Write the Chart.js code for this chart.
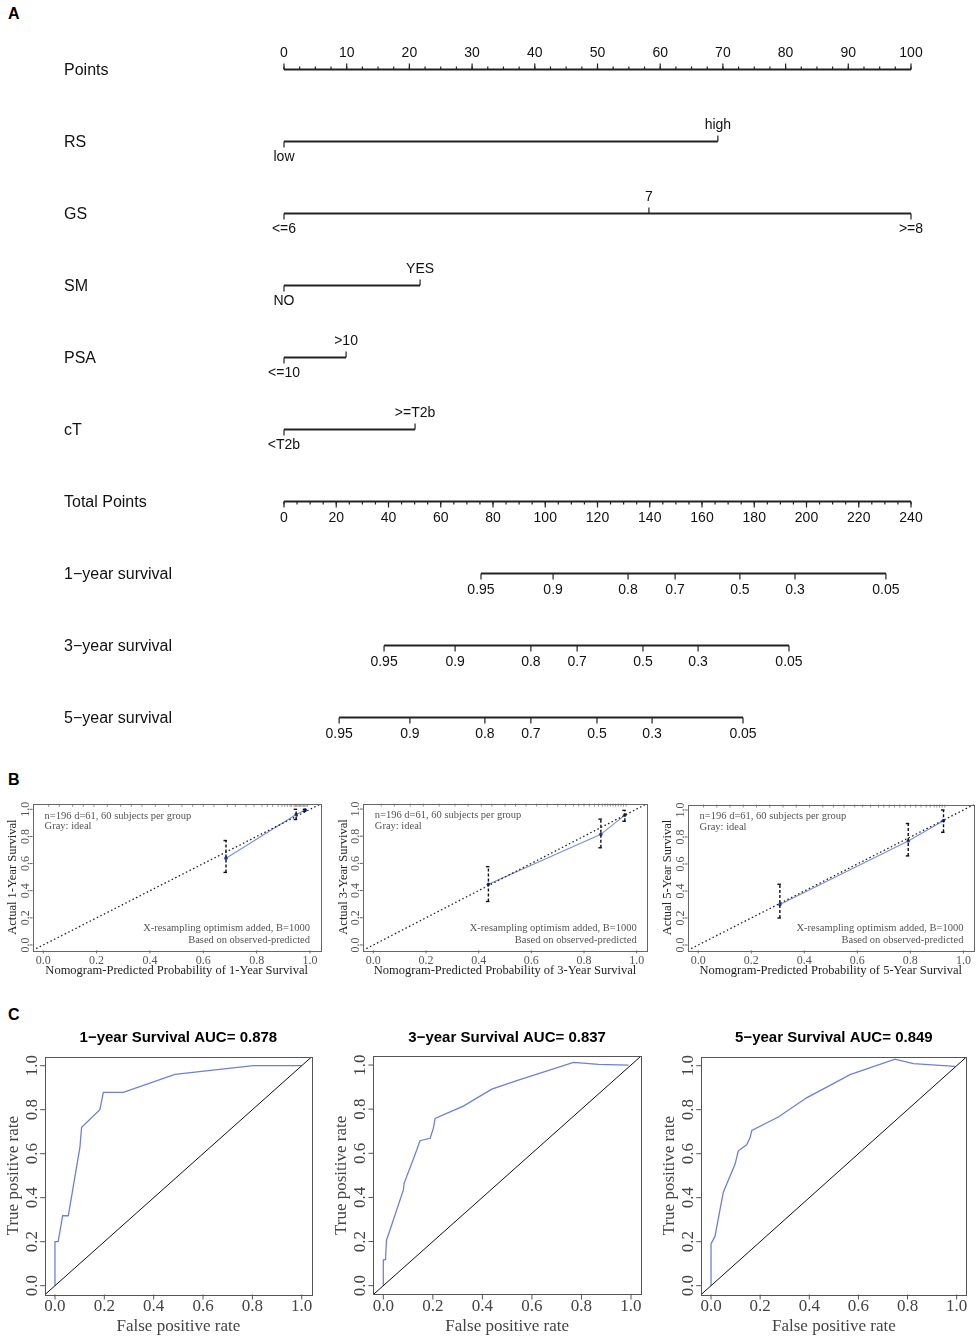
<!DOCTYPE html>
<html><head><meta charset="utf-8">
<script src="https://cdn.jsdelivr.net/npm/chart.js@4.4.1/dist/chart.umd.min.js"></script>
<style>
html,body{margin:0;padding:0;background:#fff;}
body{width:978px;height:1339px;position:relative;overflow:hidden;}
canvas{position:absolute;}
.lbl{position:absolute;font:bold 16px "Liberation Sans",Arial,sans-serif;color:#000;line-height:18px;}
</style></head><body>
<div class="lbl" style="left:8px;top:5px">A</div>
<div class="lbl" style="left:8px;top:771px">B</div>
<div class="lbl" style="left:8px;top:1006px">C</div>
<canvas id="nomo" width="978" height="760" style="left:0;top:0"></canvas>
<canvas id="cal1" width="325" height="185" style="left:0;top:795px"></canvas>
<canvas id="cal2" width="330" height="185" style="left:325px;top:795px"></canvas>
<canvas id="cal3" width="323" height="185" style="left:655px;top:795px"></canvas>
<canvas id="roc1" width="325" height="319" style="left:0;top:1020px"></canvas>
<canvas id="roc2" width="330" height="319" style="left:325px;top:1020px"></canvas>
<canvas id="roc3" width="328" height="319" style="left:650px;top:1020px"></canvas>
<script>
// ================= DATA =================
// Panel A: nomogram
const rowNames = ['Points','RS','GS','SM','PSA','cT','Total Points','1\u2212year survival','3\u2212year survival','5\u2212year survival'];
const pointsTicks = [0,10,20,30,40,50,60,70,80,90,100];
const rsLevels  = ['low','high'];        const rsPoints  = [0, 69.2];
const gsLevels  = ['<=6','7','>=8'];     const gsPoints  = [0, 58.2, 100];
const smLevels  = ['NO','YES'];          const smPoints  = [0, 21.7];
const psaLevels = ['<=10','>10'];        const psaPoints = [0, 9.9];
const ctLevels  = ['<T2b','>=T2b'];      const ctPoints  = [0, 20.9];
const totalTicks = [0,20,40,60,80,100,120,140,160,180,200,220,240];
const survTickLabels = ['0.95','0.9','0.8','0.7','0.5','0.3','0.05'];
const surv1yTotal = [75.4,103.0,131.7,149.7,174.5,195.6,230.4];
const surv3yTotal = [38.3,65.5,94.5,112.2,137.4,158.5,193.3];
const surv5yTotal = [21.1,48.2,76.9,94.5,119.8,140.9,175.7];

// Panel B: calibration
const calTicks = [0,0.2,0.4,0.6,0.8,1.0];
const cal1Pred = [0.685,0.948,0.982]; const cal1Obs = [0.640,0.962,0.995];
const cal1Lo   = [0.535,0.925,0.985]; const cal1Hi  = [0.770,1.000,1.000];
const cal2Pred = [0.437,0.864,0.955]; const cal2Obs = [0.446,0.814,0.955];
const cal2Lo   = [0.320,0.715,0.910]; const cal2Hi  = [0.576,0.926,0.990];
const cal3Pred = [0.308,0.792,0.925]; const cal3Obs = [0.300,0.770,0.920];
const cal3Lo   = [0.200,0.660,0.835]; const cal3Hi  = [0.450,0.900,1.000];
const rug1 = [0.02,0.06,0.11,0.15,0.19,0.24,0.29,0.33,0.37,0.42,0.47,0.52,0.56,0.60,0.64,0.69,0.72,0.76,0.79,0.82,0.84,0.86,0.88,0.895,0.905,0.915,0.925,0.93,0.94,0.945,0.95,0.955,0.96,0.965,0.97,0.975,0.98,0.985,0.99];
const rug2 = [0.03,0.08,0.14,0.19,0.25,0.31,0.36,0.41,0.45,0.5,0.54,0.58,0.62,0.66,0.7,0.73,0.76,0.78,0.8,0.82,0.84,0.855,0.87,0.88,0.89,0.9,0.91,0.92,0.93,0.94,0.95,0.96];
const rug3 = [0.02,0.07,0.12,0.17,0.22,0.27,0.32,0.37,0.42,0.47,0.51,0.55,0.59,0.62,0.65,0.68,0.7,0.72,0.74,0.76,0.78,0.8,0.82,0.84,0.86,0.875,0.89,0.9,0.91,0.92,0.93];

// Panel C: ROC
const rocTitles = ['1\u2212year Survival AUC= 0.878','3\u2212year Survival AUC= 0.837','5\u2212year Survival AUC= 0.849'];
const roc1FPR = [0,0,0.013,0.031,0.054,0.101,0.108,0.182,0.196,0.277,0.486,0.804,1.0];
const roc1TPR = [0,0.2,0.2,0.318,0.318,0.629,0.72,0.80,0.879,0.879,0.961,1.0,1.0];
const roc2FPR = [0,0,0.009,0.013,0.027,0.081,0.084,0.135,0.148,0.189,0.202,0.209,0.323,0.438,0.545,0.768,0.869,0.99];
const roc2TPR = [0,0.116,0.119,0.207,0.252,0.434,0.464,0.615,0.657,0.668,0.713,0.758,0.814,0.891,0.932,1.012,1.003,1.0];
const roc3FPR = [0,0,0.016,0.050,0.098,0.111,0.145,0.159,0.166,0.274,0.389,0.566,0.749,0.824,0.993];
const roc3TPR = [0,0.191,0.224,0.425,0.553,0.613,0.640,0.673,0.706,0.767,0.854,0.959,1.030,1.009,0.997];
const axisMin = -0.04, axisMax = 1.04;

// ================= NOMOGRAM =================
const SANS = '"Liberation Sans", Arial, sans-serif';
const SERIF = '"Liberation Serif", "Times New Roman", serif';
const predictors = [
  {levels: rsLevels, pts: rsPoints},
  {levels: gsLevels, pts: gsPoints},
  {levels: smLevels, pts: smPoints},
  {levels: psaLevels, pts: psaPoints},
  {levels: ctLevels, pts: ctPoints}
];
const survAxes = [surv1yTotal, surv3yTotal, surv5yTotal];

function hLine(a, b, row, axis) {
  return {data: [{x: a, y: row}, {x: b, y: row}], xAxisID: axis, yAxisID: 'y',
          showLine: true, pointRadius: 0, borderColor: '#222', borderWidth: 1.8};
}
const nomoDatasets = [
  hLine(pointsTicks[0], pointsTicks[pointsTicks.length - 1], 0, 'x'),
  ...predictors.map((p, k) => hLine(Math.min(...p.pts), Math.max(...p.pts), k + 1, 'x')),
  hLine(totalTicks[0], totalTicks[totalTicks.length - 1], 6, 'x2'),
  ...survAxes.map((s, k) => hLine(Math.min(...s), Math.max(...s), 7 + k, 'x2'))
];

const nomoPlugin = {
  id: 'nomo',
  afterDatasetsDraw(chart) {
    const {ctx, scales} = chart; const X = scales.x, X2 = scales.x2, Y = scales.y;
    ctx.save();
    ctx.strokeStyle = '#222'; ctx.fillStyle = '#111'; ctx.lineWidth = 1.2;
    const seg = (x, y0, y1) => { ctx.beginPath(); ctx.moveTo(x, y0); ctx.lineTo(x, y1); ctx.stroke(); };
    ctx.font = '16px ' + SANS; ctx.textAlign = 'left'; ctx.textBaseline = 'middle';
    rowNames.forEach((n, i) => ctx.fillText(n, 64, Y.getPixelForValue(i) + 1));
    ctx.font = '14px ' + SANS; ctx.textAlign = 'center';
    // Points axis
    let py = Y.getPixelForValue(0);
    const pMax = pointsTicks[pointsTicks.length - 1];
    for (let v = 0; v <= pMax + 1e-9; v += 2.5) seg(X.getPixelForValue(v), py, py - 3);
    pointsTicks.forEach(v => { const px = X.getPixelForValue(v); seg(px, py, py - 6); ctx.fillText(String(v), px, py - 16); });
    // predictors
    predictors.forEach((p, k) => {
      py = Y.getPixelForValue(k + 1);
      p.pts.forEach((v, j) => {
        const px = X.getPixelForValue(v); const up = j % 2 === 1;
        seg(px, py, up ? py - 6 : py + 6);
        ctx.fillText(p.levels[j], px, up ? py - 16 : py + 16);
      });
    });
    // Total points
    py = Y.getPixelForValue(6);
    const tMax = totalTicks[totalTicks.length - 1];
    for (let v = 0; v <= tMax + 1e-9; v += 5) seg(X2.getPixelForValue(v), py, py + 3);
    totalTicks.forEach(v => { const px = X2.getPixelForValue(v); seg(px, py, py + 6); ctx.fillText(String(v), px, py + 17); });
    // survival axes
    survAxes.forEach((s, k) => {
      py = Y.getPixelForValue(7 + k);
      s.forEach((v, j) => { const px = X2.getPixelForValue(v); seg(px, py, py + 6); ctx.fillText(survTickLabels[j], px, py + 17); });
    });
    ctx.restore();
  }
};

new Chart(document.getElementById('nomo'), {
  type: 'scatter',
  data: {datasets: nomoDatasets},
  options: {
    responsive: false, animation: false, devicePixelRatio: 1,
    layout: {padding: {left: 284, right: 67, top: 33.5, bottom: 6.5}},
    scales: {
      x: {type: 'linear', min: 0, max: 100, display: false},
      x2: {type: 'linear', axis: 'x', min: 0, max: 240, display: false},
      y: {type: 'linear', min: -0.5, max: 9.5, reverse: true, display: false}
    },
    plugins: {legend: {display: false}, tooltip: {enabled: false}}
  },
  plugins: [nomoPlugin]
});

// ================= R-style axes plugin =================
const rAxesPlugin = {
  id: 'rAxes',
  afterDatasetsDraw(chart, args, o) {
    const {ctx, chartArea: ca, scales: {x: X, y: Y}} = chart;
    ctx.save();
    const seg = (x0, y0, x1, y1) => { ctx.beginPath(); ctx.moveTo(x0, y0); ctx.lineTo(x1, y1); ctx.stroke(); };
    // rug
    if (o.rug) {
      ctx.strokeStyle = '#999'; ctx.lineWidth = 1;
      o.rug.forEach(v => { const px = X.getPixelForValue(v); seg(px, ca.top, px, ca.top + 3); });
    }
    // box
    ctx.strokeStyle = o.boxColor; ctx.lineWidth = 1;
    ctx.strokeRect(Math.round(ca.left) + 0.5, Math.round(ca.top) + 0.5, Math.round(ca.right - ca.left), Math.round(ca.bottom - ca.top));
    // ticks
    o.ticks.forEach(v => {
      const px = X.getPixelForValue(v); seg(px, ca.bottom, px, ca.bottom + o.tickLen);
      const py = Y.getPixelForValue(v); seg(ca.left, py, ca.left - o.tickLen, py);
    });
    ctx.font = o.tickFont; ctx.fillStyle = o.tickColor; ctx.textAlign = 'center'; ctx.textBaseline = 'middle';
    o.ticks.forEach(v => ctx.fillText(v.toFixed(1), X.getPixelForValue(v), ca.bottom + o.xTickOff));
    o.ticks.forEach(v => {
      ctx.save(); ctx.translate(ca.left - o.yTickOff, Y.getPixelForValue(v)); ctx.rotate(-Math.PI / 2);
      ctx.fillText(v.toFixed(1), 0, 0); ctx.restore();
    });
    ctx.font = o.titleFont; ctx.fillStyle = o.titleColor;
    ctx.fillText(o.xTitle, (ca.left + ca.right) / 2, ca.bottom + o.xTitleOff);
    ctx.save(); ctx.translate(ca.left - o.yTitleOff, (ca.top + ca.bottom) / 2); ctx.rotate(-Math.PI / 2);
    ctx.fillText(o.yTitle, 0, 0); ctx.restore();
    if (o.main) {
      ctx.font = o.mainFont; ctx.fillStyle = '#000';
      ctx.fillText(o.main, (ca.left + ca.right) / 2, o.mainY);
    }
    // calibration annotations
    if (o.notes) {
      ctx.font = o.noteFont; ctx.fillStyle = '#555';
      ctx.textAlign = 'left';
      ctx.fillText(o.notes[0], ca.left + 12, ca.top + 12);
      ctx.fillText(o.notes[1], ca.left + 12, ca.top + 22.5);
      ctx.textAlign = 'right';
      const rx = X.getPixelForValue(1.0);
      ctx.fillText(o.notes[2], rx, ca.bottom - 22);
      ctx.fillText(o.notes[3], rx, ca.bottom - 10.5);
    }
    // error bars
    if (o.errLo) {
      ctx.strokeStyle = '#111'; ctx.lineWidth = 1.4;
      o.errX.forEach((v, i) => {
        const px = X.getPixelForValue(v), y0 = Y.getPixelForValue(o.errLo[i]), y1 = Y.getPixelForValue(o.errHi[i]);
        ctx.setLineDash([3, 2]); seg(px, y0, px, y1); ctx.setLineDash([]);
        seg(px - 2.5, y0, px + 1, y0); seg(px - 2.5, y1, px + 1, y1);
      });
    }
    ctx.restore();
  }
};

function baseScales() {
  return {
    x: {type: 'linear', min: axisMin, max: axisMax, display: false},
    y: {type: 'linear', min: axisMin, max: axisMax, display: false}
  };
}
const diagData = [{x: axisMin, y: axisMin}, {x: axisMax, y: axisMax}];
const zip = (xs, ys) => xs.map((v, i) => ({x: v, y: ys[i]}));

function calChart(id, pad, pred, obs, lo, hi, rug, n) {
  new Chart(document.getElementById(id), {
    type: 'scatter',
    data: {datasets: [
      {data: diagData, showLine: true, pointRadius: 0, borderColor: '#222', borderWidth: 1.3, borderDash: [1.5, 2.5]},
      {data: zip(pred, obs), showLine: true, pointRadius: 1.8, pointBackgroundColor: '#2340c0', pointBorderWidth: 0,
       borderColor: '#7d8fe2', borderWidth: 1.1}
    ]},
    options: {
      responsive: false, animation: false, devicePixelRatio: 1,
      layout: {padding: pad}, scales: baseScales(),
      plugins: {legend: {display: false}, tooltip: {enabled: false},
        rAxes: {ticks: calTicks, boxColor: '#666', tickLen: 3, tickFont: '12px ' + SERIF, tickColor: '#555',
          titleFont: '12.5px ' + SERIF, titleColor: '#222', xTickOff: 10, xTitleOff: 20.6, yTickOff: 6.5, yTitleOff: 19.5,
          xTitle: 'Nomogram-Predicted Probability of ' + n + '-Year Survival', yTitle: 'Actual ' + n + '-Year Survival',
          rug: rug, errX: pred, errLo: lo, errHi: hi, noteFont: '10.5px ' + SERIF,
          notes: ['n=196 d=61, 60 subjects per group', 'Gray: ideal', 'X-resampling optimism added, B=1000', 'Based on observed-predicted']}
      }
    },
    plugins: [rAxesPlugin]
  });
}
calChart('cal1', {left: 32.6, right: 4.3, top: 8.9, bottom: 29.6}, cal1Pred, cal1Obs, cal1Lo, cal1Hi, rug1, 1);
calChart('cal2', {left: 37.8, right: 7.8, top: 8.6, bottom: 29.6}, cal2Pred, cal2Obs, cal2Lo, cal2Hi, rug2, 3);
calChart('cal3', {left: 32.6, right: 1, top: 9.6, bottom: 29.6}, cal3Pred, cal3Obs, cal3Lo, cal3Hi, rug3, 5);

function rocChart(id, pad, fpr, tpr, title) {
  new Chart(document.getElementById(id), {
    type: 'scatter',
    data: {datasets: [
      {data: diagData, showLine: true, pointRadius: 0, borderColor: '#111', borderWidth: 1},
      {data: zip(fpr, tpr), showLine: true, pointRadius: 0, borderColor: '#6f80d4', borderWidth: 1.3}
    ]},
    options: {
      responsive: false, animation: false, devicePixelRatio: 1,
      layout: {padding: pad}, scales: baseScales(),
      plugins: {legend: {display: false}, tooltip: {enabled: false},
        rAxes: {ticks: calTicks, boxColor: '#555', tickLen: 5, tickFont: '17px ' + SERIF, tickColor: '#444',
          titleFont: '17px ' + SERIF, titleColor: '#444', xTickOff: 12.5, xTitleOff: 32.5, yTickOff: 12.5, yTitleOff: 32,
          xTitle: 'False positive rate', yTitle: 'True positive rate', main: title, mainY: 18, mainFont: 'bold 15px ' + SANS}
      }
    },
    plugins: [rAxesPlugin]
  });
}
rocChart('roc1', {left: 45.1, right: 13.4, top: 36.9, bottom: 44.5}, roc1FPR, roc1TPR, rocTitles[0]);
rocChart('roc2', {left: 48.4, right: 14.1, top: 36.2, bottom: 44.5}, roc2FPR, roc2TPR, rocTitles[1]);
rocChart('roc3', {left: 51.2, right: 11.5, top: 36.9, bottom: 44.5}, roc3FPR, roc3TPR, rocTitles[2]);
</script>
</body></html>
